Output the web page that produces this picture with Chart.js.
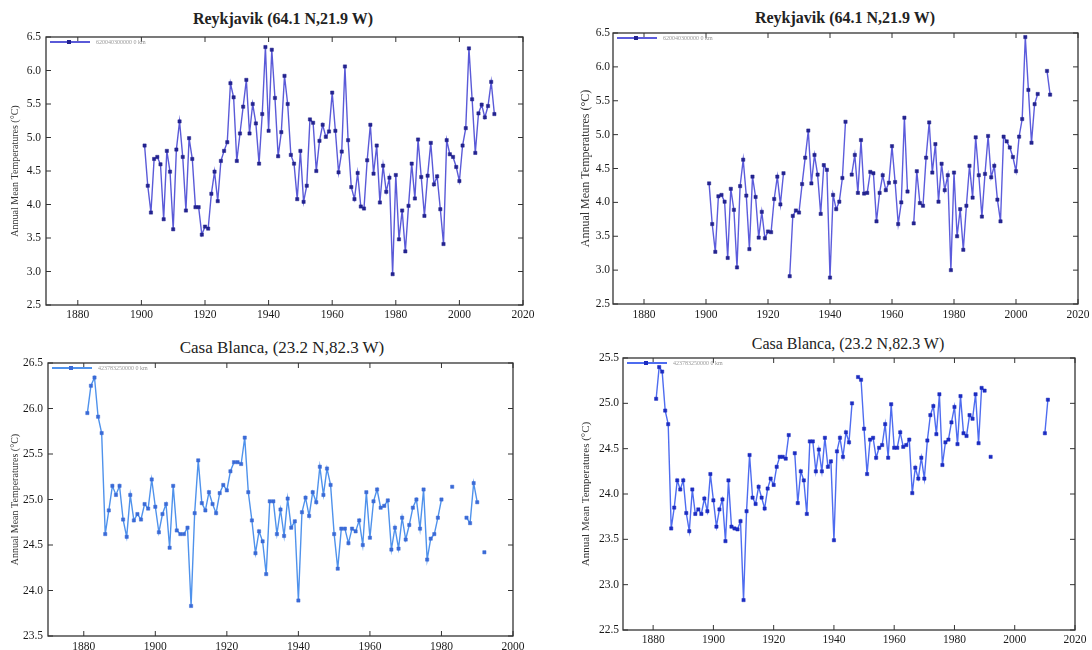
<!DOCTYPE html>
<html>
<head>
<meta charset="utf-8">
<script src="https://cdn.jsdelivr.net/npm/chart.js@4.4.1/dist/chart.umd.min.js"></script>
<style>
  body { margin: 0; background: #fff; }
  #wrap { position: relative; width: 1092px; height: 650px; overflow: hidden; background: #fff; }
  canvas { position: absolute; }
  .title { position: absolute; font-family: "Liberation Serif", "DejaVu Serif", serif; color: #222;
           transform: translateX(-50%); white-space: nowrap; line-height: 1; }
  .legend { position: absolute; height: 8px; font-family: "Liberation Serif", serif; font-size: 6px;
            color: #999; white-space: nowrap; line-height: 8px; }
  .legend .ln { position: absolute; left: 0; top: 3px; width: 40px; height: 1.5px; }
  .legend .mk { position: absolute; left: 17px; top: 2px; width: 4px; height: 4px; }
  .legend .tx { position: absolute; left: 46px; top: 0; }
</style>
</head>
<body>
<div id="wrap">
  <div class="title" style="left:283px; top:11px; font-size:16px; font-weight:bold;">Reykjavik (64.1 N,21.9 W)</div>
  <div class="title" style="left:845px; top:10px; font-size:16px; font-weight:bold;">Reykjavik (64.1 N,21.9 W)</div>
  <div class="title" style="left:282px; top:339px; font-size:17px;">Casa Blanca, (23.2 N,82.3 W)</div>
  <div class="title" style="left:848px; top:336px; font-size:16px;">Casa Blanca, (23.2 N,82.3 W)</div>
  <canvas id="c1"></canvas>
  <canvas id="c2"></canvas>
  <canvas id="c3"></canvas>
  <canvas id="c4"></canvas>
</div>
<script>
const range = (a, b) => Array.from({ length: b - a + 1 }, (_, i) => a + i);

/* ================= DATA ================= */
const yearTicks = [1880, 1900, 1920, 1940, 1960, 1980, 2000, 2020];
const yearTicksCasaA = [1880, 1900, 1920, 1940, 1960, 1980, 2000];

const reykYearsA = range(1901, 2011);
const reykTempA = [
  4.88, 4.28, 3.88, 4.68, 4.71, 4.60, 3.78, 4.80, 4.49, 3.63,
  4.82, 5.24, 4.71, 3.91, 4.99, 4.68, 3.96, 3.96, 3.55, 3.67,
  3.64, 4.16, 4.49, 4.05, 4.65, 4.80, 4.93, 5.81, 5.60, 4.65,
  5.06, 5.46, 5.86, 5.06, 5.50, 5.21, 4.61, 5.35, 6.35, 5.10,
  6.31, 5.59, 4.72, 5.08, 5.92, 5.50, 4.74, 4.61, 4.08, 4.80,
  4.04, 4.28, 5.27, 5.22, 4.50, 4.95, 5.19, 5.01, 5.09, 5.67,
  5.10, 4.48, 4.79, 6.06, 4.96, 4.26, 4.08, 4.47, 3.97, 3.94,
  4.66, 5.19, 4.46, 4.88, 4.03, 4.58, 4.19, 4.40, 2.96, 4.44,
  3.48, 3.91, 3.30, 3.98, 4.61, 4.09, 4.97, 4.41, 3.83, 4.43,
  4.92, 4.30, 4.42, 3.93, 3.41, 4.96, 4.75, 4.71, 4.56, 4.35,
  4.88, 5.14, 6.33, 5.57, 4.77, 5.36, 5.49, 5.30, 5.47, 5.83,
  5.35
];

const reykYearsB = range(1901, 2011);
const reykTempB = [
  4.28, 3.68, 3.27, 4.09, 4.11, 4.01, 3.18, 4.20, 3.89, 3.04,
  4.24, 4.63, 4.10, 3.31, 4.38, 4.08, 3.48, 3.86, 3.47, 3.57,
  3.56, 4.05, 4.38, 3.97, 4.43, null, 2.91, 3.80, 3.88, 3.85,
  4.27, 4.66, 5.06, 4.28, 4.70, 4.41, 3.83, 4.55, 4.48, 2.89,
  4.11, 3.90, 4.01, 4.36, 5.19, null, 4.41, 4.70, 4.14, 4.92,
  4.13, 4.14, 4.45, 4.43, 3.72, 4.14, 4.40, 4.18, 4.29, 4.83,
  4.30, 3.68, 4.00, 5.25, 4.16, null, 3.69, 4.46, 3.99, 3.95,
  4.66, 5.18, 4.44, 4.86, 4.01, 4.57, 4.18, 4.40, 3.00, 4.44,
  3.50, 3.90, 3.30, 3.95, 4.54, 4.07, 4.96, 4.40, 3.79, 4.42,
  4.98, 4.37, 4.54, 4.04, 3.72, 4.97, 4.90, 4.81, 4.67, 4.46,
  4.97, 5.23, 6.44, 5.66, 4.88, 5.45, 5.60, null, null, 5.94,
  5.59
];

const casaYearsA = range(1881, 1992);
const casaTempA = [
  25.95, 26.25, 26.34, 25.91, 25.73, 24.62, 24.88, 25.15, 25.05, 25.15,
  24.78, 24.59, 25.05, 24.77, 24.84, 24.78, 24.95, 24.90, 25.22, 24.92,
  24.64, 24.84, 24.95, 24.47, 25.15, 24.66, 24.62, 24.62, 24.69, 23.83,
  24.85, 25.43, 24.96, 24.88, 25.08, 24.95, 24.85, 25.07, 25.16, 25.10,
  25.31, 25.41, 25.41, 25.39, 25.68, 25.08, 24.77, 24.41, 24.65, 24.54,
  24.18, 24.98, 24.98, 24.62, 24.89, 24.60, 25.01, 24.69, 24.76, 23.89,
  24.86, 25.02, 24.82, 25.08, 24.97, 25.36, 25.05, 25.34, 25.16, 24.62,
  24.24, 24.68, 24.68, 24.52, 24.68, 24.65, 24.77, 24.50, 25.08, 24.58,
  24.98, 25.11, 24.91, 24.93, 24.99, 24.45, 24.69, 24.46, 24.80, 24.56,
  24.72, 24.91, 25.00, 24.68, 25.11, 24.34, 24.57, 24.62, 24.80, 25.00,
  null, null, 25.14, null, null, null, 24.80, 24.74, 25.18, 24.97,
  null, 24.42
];

const casaYearsB = range(1881, 2011);
const casaTempB = [
  25.05, 25.40, 25.35, 24.92, 24.77, 23.62, 23.85, 24.15, 24.05, 24.15,
  23.79, 23.59, 24.05, 23.78, 23.83, 23.78, 23.95, 23.81, 24.22, 23.93,
  23.64, 23.83, 23.94, 23.48, 24.15, 23.64, 23.62, 23.61, 23.70, 22.83,
  23.81, 24.43, 23.96, 23.89, 24.08, 23.96, 23.84, 24.06, 24.17, 24.10,
  24.30, 24.41, 24.41, 24.39, 24.65, null, 24.45, 23.90, 24.25, 24.15,
  23.78, 24.58, 24.58, 24.25, 24.49, 24.25, 24.62, 24.30, 24.36, 23.49,
  24.47, 24.62, 24.41, 24.68, 24.57, 25.00, null, 25.29, 25.26, 24.72,
  24.22, 24.60, 24.62, 24.40, 24.51, 24.54, 24.77, 24.40, 24.99, 24.51,
  24.51, 24.68, 24.52, 24.54, 24.60, 24.01, 24.29, 24.17, 24.40, 24.17,
  24.59, 24.87, 24.97, 24.66, 25.10, 24.32, 24.57, 24.60, 24.79, 24.96,
  24.55, 25.08, 24.67, 24.64, 24.87, 24.83, 25.10, 24.56, 25.17, 25.14,
  null, 24.41, null, null, null, null, null, null, null, null,
  null, null, null, null, null, null, null, null, null, 24.67,
  25.04
];

/* ================= PLOT FRAME + INWARD TICKS ================= */
const frameTicks = {
  id: "frameTicks",
  afterDraw(chart) {
    const { ctx, chartArea: a, scales: { x, y } } = chart;
    const seg = (x1, y1, x2, y2) => { ctx.beginPath(); ctx.moveTo(x1, y1); ctx.lineTo(x2, y2); ctx.stroke(); };
    ctx.save();
    ctx.strokeStyle = "#333";
    ctx.lineWidth = 1.3;
    ctx.strokeRect(a.left, a.top, a.right - a.left, a.bottom - a.top);
    ctx.lineWidth = 1;
    x.ticks.forEach(t => {
      const px = x.getPixelForValue(t.value);
      seg(px, a.bottom, px, a.bottom - 5);
      seg(px, a.top, px, a.top + 5);
    });
    y.ticks.forEach(t => {
      const py = y.getPixelForValue(t.value);
      seg(a.left, py, a.left + 5, py);
      seg(a.right, py, a.right - 5, py);
    });
    ctx.restore();
  }
};

/* ================= PANEL ================= */
function makePanel(id, p) {
  const pt = 8, pr = 14, xh = 20;
  const cx = p.plot[0] - p.yw, cy = p.plot[1] - pt;
  const cw = p.plot[2] + pr - cx, ch = p.plot[3] + xh - cy;
  const canvas = document.getElementById(id);
  canvas.style.left = cx + "px";
  canvas.style.top = cy + "px";
  canvas.width = cw;
  canvas.height = ch;
  canvas.style.width = cw + "px";
  canvas.style.height = ch + "px";

  // small legend in the top-left corner of the plot
  const lg = document.createElement("div");
  lg.className = "legend";
  lg.style.left = (p.plot[0] + 4) + "px";
  lg.style.top = (p.plot[1] + 1) + "px";
  lg.innerHTML = `<span class="ln" style="background:${p.line}"></span>` +
    `<span class="mk" style="background:${p.marker}"></span>` +
    `<span class="tx">${p.legend}</span>`;
  document.getElementById("wrap").appendChild(lg);

  const tickFont = { family: "'Liberation Serif', 'DejaVu Serif', serif", size: 11.5 };

  new Chart(canvas, {
    type: "scatter",
    data: {
      datasets: [{
        label: p.legend,
        data: p.years.map((yr, i) => ({ x: yr, y: p.values[i] })),
        showLine: true,
        spanGaps: false,
        borderColor: p.line,
        backgroundColor: p.line,
        borderWidth: 1.4,
        pointStyle: "rect",
        pointRadius: 2.3,
        pointBackgroundColor: p.marker,
        pointBorderColor: p.marker,
        pointBorderWidth: 0.5
      }]
    },
    options: {
      responsive: false,
      animation: false,
      devicePixelRatio: 1,
      layout: { padding: { left: 0, top: pt, right: pr, bottom: 0 } },
      plugins: {
        legend: { display: false },
        tooltip: { enabled: false }
      },
      scales: {
        x: {
          type: "linear",
          min: p.xmin,
          max: p.xmax,
          grid: { display: false, drawTicks: false },
          border: { display: false },
          afterBuildTicks: s => { s.ticks = p.xticks.map(v => ({ value: v })); },
          afterFit: s => { s.height = xh; s.paddingLeft = 0; s.paddingRight = 0; },
          ticks: {
            padding: p.xpad,
            color: "#1a1a1a",
            font: tickFont,
            autoSkip: false,
            maxRotation: 0,
            callback: v => String(v)
          }
        },
        y: {
          min: p.ymin,
          max: p.ymax,
          grid: { display: false, drawTicks: false },
          border: { display: false },
          afterFit: s => { s.width = p.yw; s.paddingTop = 0; s.paddingBottom = 0; },
          ticks: {
            stepSize: 0.5,
            padding: p.ypad,
            color: "#1a1a1a",
            font: tickFont,
            callback: v => v.toFixed(1)
          },
          title: {
            display: true,
            text: "Annual Mean Temperatures (\u00B0C)",
            color: "#333",
            padding: { top: p.tpad, bottom: 0 },
            font: { family: "'Liberation Serif', serif", size: p.tsize }
          }
        }
      }
    },
    plugins: [frameTicks]
  });
}

makePanel("c1", {
  plot: [46, 37, 523, 305], yw: 46, xpad: 3, ypad: 5, tpad: 9, tsize: 10,
  xmin: 1870, xmax: 2020, xticks: yearTicks, ymin: 2.5, ymax: 6.5,
  years: reykYearsA, values: reykTempA,
  line: "#5a5ad8", marker: "#23238f", legend: "620040300000 0 km"
});

makePanel("c2", {
  plot: [613, 33, 1078, 304], yw: 43, xpad: 4, ypad: 3, tpad: 9, tsize: 12,
  xmin: 1870, xmax: 2020, xticks: yearTicks, ymin: 2.5, ymax: 6.5,
  years: reykYearsB, values: reykTempB,
  line: "#5c5cdc", marker: "#23238f", legend: "620040300000 0 km"
});

makePanel("c3", {
  plot: [48, 363, 513, 636], yw: 48, xpad: 4, ypad: 5, tpad: 9, tsize: 10,
  xmin: 1870, xmax: 2000, xticks: yearTicksCasaA, ymin: 23.5, ymax: 26.5,
  years: casaYearsA, values: casaTempA,
  line: "#4f92ec", marker: "#3a6ad6", legend: "423783250000 0 km"
});

makePanel("c4", {
  plot: [623, 358, 1075, 630], yw: 53, xpad: 3, ypad: 4, tpad: 10, tsize: 11,
  xmin: 1870, xmax: 2020, xticks: yearTicks, ymin: 22.5, ymax: 25.5,
  years: casaYearsB, values: casaTempB,
  line: "#4e6cf0", marker: "#1c2cc0", legend: "423783250000 0 km"
});
</script>
</body>
</html>
